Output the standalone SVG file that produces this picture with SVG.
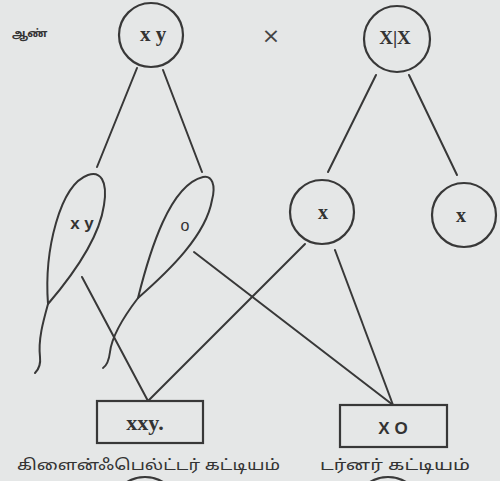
<svg xmlns="http://www.w3.org/2000/svg" width="500" height="481" viewBox="0 0 500 481">
<style>
.ln{stroke:#383838;stroke-width:2;fill:none;stroke-linecap:round;stroke-linejoin:round}
.nd{stroke:#383838;stroke-width:2.2;fill:none}
.sym{font-family:"Liberation Serif","DejaVu Serif",serif;font-weight:bold;fill:#333;text-anchor:middle}
.ta{font-family:"Noto Sans Tamil","Lohit Tamil","Noto Sans",sans-serif;fill:#333}
</style>
<rect width="500" height="481" fill="#e5e7e7"/>
<text class="ta" x="12" y="37" font-size="11" font-weight="bold">ஆண்</text>
<text x="271" y="43" font-family="'DejaVu Sans',sans-serif" font-size="22" fill="#444" text-anchor="middle">×</text>
<g id="connectors">
<path class="ln" d="M137,68 L97,167"/>
<path class="ln" d="M163,70 L202,172"/>
<path class="ln" d="M376,75 L328,172"/>
<path class="ln" d="M409,75 L457,175"/>
<path class="ln" d="M82,277 L148,401"/>
<path class="ln" d="M305,244 L148,401"/>
<path class="ln" d="M194,252 L393,405"/>
<path class="ln" d="M335,250 L393,405"/>
</g>
<g id="male">
<circle class="nd" cx="151" cy="35" r="32"/>
<text class="sym" x="153" y="41" font-size="21">x y</text>
</g>
<g id="female">
<circle class="nd" cx="397" cy="39" r="33"/>
<text class="sym" x="395" y="44" font-size="19">X|X</text>
</g>
<g id="gamete-xy">
<path class="ln" d="M48,304 C44,250 60,185 88,175 C100,171 108,180 104,205 C99,240 72,276 48,304 Z"/>
<path class="ln" d="M48,304 C43,322 38,340 40,357 C41,365 38,370 35,373"/>
<text x="82" y="229" font-family="'Liberation Sans','DejaVu Sans',sans-serif" font-weight="bold" font-size="17" fill="#333" text-anchor="middle">x y</text>
</g>
<g id="gamete-o">
<path class="ln" d="M138,298 C150,250 170,185 203,177 C212,175 216,185 212,200 C206,235 170,270 138,298 Z"/>
<path class="ln" d="M138,298 C125,315 112,335 110,352 C109,360 106,366 103,368"/>
<text x="185" y="231" font-family="'Liberation Sans','DejaVu Sans',sans-serif" font-size="16" fill="#333" text-anchor="middle">o</text>
</g>
<g id="gamete-x1">
<circle class="nd" cx="322" cy="212" r="32"/>
<text class="sym" x="323" y="219" font-size="20">x</text>
</g>
<g id="gamete-x2">
<circle class="nd" cx="464" cy="215" r="32"/>
<text class="sym" x="461" y="222" font-size="20">x</text>
</g>
<g id="klinefelter">
<rect class="nd" x="97" y="401" width="106" height="42"/>
<text class="sym" x="145" y="430" font-size="22">xxy.</text>
</g>
<g id="turner">
<rect class="nd" x="340" y="405" width="107" height="42"/>
<text x="393" y="434" font-family="'Liberation Sans','DejaVu Sans',sans-serif" font-weight="bold" font-size="17" fill="#333" text-anchor="middle">X O</text>
</g>
<text class="ta" x="17" y="470" font-size="15" textLength="263" lengthAdjust="spacingAndGlyphs">கிளைன்ஃபெல்ட்டர் கட்டியம்</text>
<text class="ta" x="320" y="470" font-size="15" textLength="150" lengthAdjust="spacingAndGlyphs">டர்னர் கட்டியம்</text>
<circle class="nd" cx="145" cy="511" r="34"/>
<circle class="nd" cx="388" cy="511" r="34"/>
</svg>
